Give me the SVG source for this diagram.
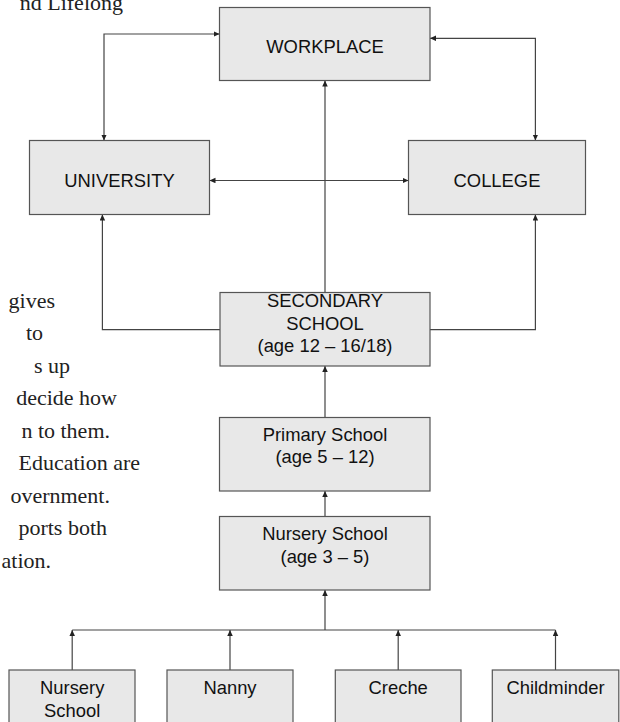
<svg xmlns="http://www.w3.org/2000/svg" width="620" height="722" viewBox="0 0 620 722">
<style>
  .box{fill:#e8e8e8;stroke:#555;stroke-width:1.2}
  .lbl{font-family:"Liberation Sans",Arial,sans-serif;font-size:18.4px;fill:#111;text-anchor:middle}
  .para{font-family:"Liberation Serif","Times New Roman",serif;font-size:22px;fill:#222;text-anchor:end}
  .con{fill:none;stroke:#444;stroke-width:1.2}
</style>
<defs>
  <marker id="ah" markerUnits="userSpaceOnUse" markerWidth="6" markerHeight="6" refX="6" refY="2.75" orient="auto-start-reverse">
    <path d="M0,0 L6,2.75 L0,5.5 z" fill="#222"/>
  </marker>
</defs>
<rect width="620" height="722" fill="#fff"/>
<g id="paragraph">
  <text class="para" x="123" y="10">nd Lifelong</text>
  <text class="para" x="55" y="307.5">gives</text>
  <text class="para" x="43" y="340">to</text>
  <text class="para" x="70" y="372.5">s up</text>
  <text class="para" x="117" y="405">decide how</text>
  <text class="para" x="110" y="437.5">n to them.</text>
  <text class="para" x="140" y="470">Education are</text>
  <text class="para" x="110" y="502.5">overnment.</text>
  <text class="para" x="107" y="535">ports both</text>
  <text class="para" x="51" y="567.5">ation.</text>
</g>
<g id="connectors">
  <path class="con" d="M219.5,34 H104 V140.5" marker-start="url(#ah)" marker-end="url(#ah)"/>
  <path class="con" d="M430,38.3 H535.4 V140.5" marker-start="url(#ah)" marker-end="url(#ah)"/>
  <path class="con" d="M209.5,180.5 H408.5" marker-start="url(#ah)" marker-end="url(#ah)"/>
  <path class="con" d="M325,292.5 V80.5" marker-end="url(#ah)"/>
  <path class="con" d="M220,329.7 H102.4 V214.5" marker-end="url(#ah)"/>
  <path class="con" d="M430,329.7 H535.4 V214.5" marker-end="url(#ah)"/>
  <path class="con" d="M325,417.5 V366" marker-end="url(#ah)"/>
  <path class="con" d="M325,516.5 V491" marker-end="url(#ah)"/>
  <path class="con" d="M325,630 V590" marker-end="url(#ah)"/>
  <path class="con" d="M72.2,630 H555.5"/>
  <path class="con" d="M72.2,670 V630" marker-end="url(#ah)"/>
  <path class="con" d="M230,670 V630" marker-end="url(#ah)"/>
  <path class="con" d="M398.2,670 V630" marker-end="url(#ah)"/>
  <path class="con" d="M555.5,670 V630" marker-end="url(#ah)"/>
</g>
<g id="workplace">
  <rect class="box" x="219.5" y="7.5" width="210.5" height="73"/>
  <text class="lbl" x="325" y="53">WORKPLACE</text>
</g>
<g id="university">
  <rect class="box" x="29.5" y="140.5" width="180" height="74"/>
  <text class="lbl" x="119.5" y="187">UNIVERSITY</text>
</g>
<g id="college">
  <rect class="box" x="408.5" y="140.5" width="177" height="74"/>
  <text class="lbl" x="497" y="187">COLLEGE</text>
</g>
<g id="secondary">
  <rect class="box" x="220" y="292.5" width="210" height="73.5"/>
  <text class="lbl" x="325" y="307">SECONDARY</text>
  <text class="lbl" x="325" y="329.5">SCHOOL</text>
  <text class="lbl" x="325" y="352">(age 12 – 16/18)</text>
</g>
<g id="primary">
  <rect class="box" x="219.5" y="417.5" width="210.5" height="73.5"/>
  <text class="lbl" x="325" y="440.5">Primary School</text>
  <text class="lbl" x="325" y="463">(age 5 – 12)</text>
</g>
<g id="nursery">
  <rect class="box" x="219.5" y="516.5" width="210.5" height="73.5"/>
  <text class="lbl" x="325" y="540">Nursery School</text>
  <text class="lbl" x="325" y="562.5">(age 3 – 5)</text>
</g>
<g id="nursery-school-early">
  <rect class="box" x="9" y="670" width="126" height="60"/>
  <text class="lbl" x="72.2" y="694">Nursery</text>
  <text class="lbl" x="72.2" y="716.7">School</text>
</g>
<g id="nanny">
  <rect class="box" x="167" y="670" width="126" height="60"/>
  <text class="lbl" x="230" y="694">Nanny</text>
</g>
<g id="creche">
  <rect class="box" x="335.3" y="670" width="125.7" height="60"/>
  <text class="lbl" x="398.2" y="694">Creche</text>
</g>
<g id="childminder">
  <rect class="box" x="492.3" y="670" width="126.5" height="60"/>
  <text class="lbl" x="555.5" y="694">Childminder</text>
</g>
</svg>
